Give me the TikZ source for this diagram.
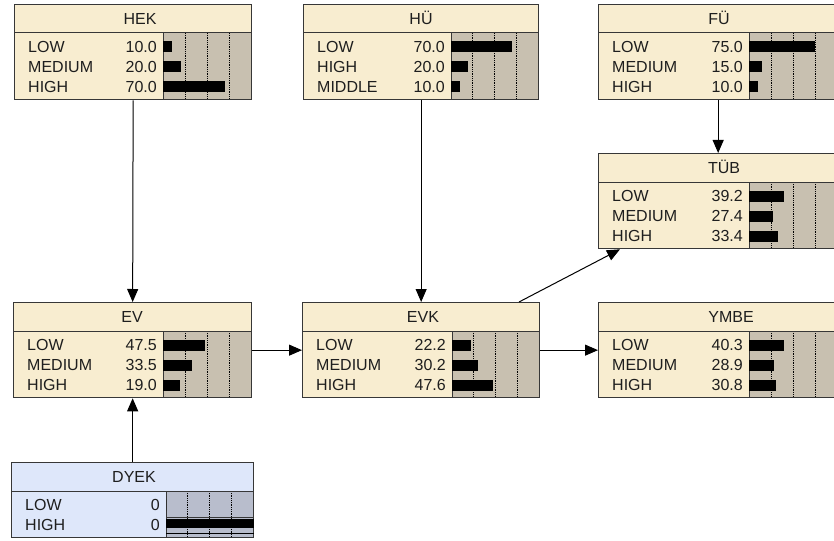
\documentclass[tikz,border=0pt]{standalone}
\usepackage{fontspec}
\setmainfont{Liberation Sans}
\usetikzlibrary{arrows.meta,calc}
\definecolor{creammain}{RGB}{248,237,208}
\definecolor{creambar}{RGB}{200,192,176}
\definecolor{bluemain}{RGB}{222,231,250}
\definecolor{bluebar}{RGB}{184,189,204}
\definecolor{edgegray}{RGB}{55,55,55}
\definecolor{ink}{RGB}{30,30,30}
\tikzset{
  boxframe/.style={draw=edgegray, line width=1.3pt, inner sep=0pt, fill=none},
  divline/.style={draw=edgegray, line width=1pt},
  gridline/.style={draw=black, line width=0.8pt, densely dotted},
  barfill/.style={fill=black},
  conn/.style={draw=black, line width=1pt, -{Triangle[length=13pt,width=11pt]}},
  rowtext/.style={inner sep=0pt, text=ink},
}
% #1 name, #2 x, #3 y, #4 width, #5 label width, #6 rows, #7 colour prefix, #8 title, #9 rows list
\newcommand{\bnnode}[9]{%
  \pgfmathsetmacro\bnH{29+20*#6+6}%
  \pgfmathsetmacro\bnR{#2+#4}%
  \pgfmathsetmacro\bnB{#3+\bnH}%
  \pgfmathsetmacro\bnT{#3+29}%
  \pgfmathsetmacro\bnS{#2+#5}%
  \pgfmathsetmacro\bnBW{#4-#5}%
  \fill[#7main] (#2,#3) rectangle (\bnR,\bnB);
  \fill[#7bar] (\bnS,\bnT) rectangle (\bnR,\bnB);
  \foreach \q in {0.25,0.5,0.75} \draw[gridline] (\bnS+\q*\bnBW,\bnT) -- (\bnS+\q*\bnBW,\bnB);
  \draw[divline] (\bnS,\bnT) -- (\bnS,\bnB);
  \draw[divline] (#2,\bnT) -- (\bnR,\bnT);
  \node[rowtext, anchor=base] at (\bntitlex,#3+14.5+5.7) {#8};
  \foreach \lab/\val/\pct [count=\i] in {#9} {%
    \pgfmathsetmacro\cy{\bnT+14+20*(\i-1)}%
    \node[rowtext, anchor=base west] at (#2+14,\cy+5.7) {\lab};
    \node[rowtext, anchor=base east] at (\bnS-6,\cy+5.7) {\val};
    \fill[barfill] (\bnS,\cy-5.5) rectangle (\bnS+\pct*\bnBW/100,\cy+5.5);
  }
  \node[boxframe, minimum width=#4pt, minimum height=\bnH pt, anchor=north west] (#1) at (#2,#3) {};
}
\begin{document}
\begin{tikzpicture}[x=1pt,y=-1pt, font=\fontsize{16}{20}\selectfont]
\useasboundingbox (0,0) rectangle (834,540);
\fill[white] (0,0) rectangle (834,540);
\clip (0,0) rectangle (834,540);

\def\bntitlex{140}
\bnnode{hek}{14}{4}{237}{149}{3}{cream}{HEK}{LOW/10.0/10, MEDIUM/20.0/20, HIGH/70.0/70}
\def\bntitlex{421}
\bnnode{hu}{303}{4}{235}{148}{3}{cream}{HÜ}{LOW/70.0/70, HIGH/20.0/20, MIDDLE/10.0/10}
\def\bntitlex{719}
\bnnode{fu}{598}{4}{239}{151}{3}{cream}{FÜ}{LOW/75.0/75, MEDIUM/15.0/15, HIGH/10.0/10}
\def\bntitlex{724}
\bnnode{tub}{598}{153}{239}{151}{3}{cream}{TÜB}{LOW/39.2/39.2, MEDIUM/27.4/27.4, HIGH/33.4/33.4}
\def\bntitlex{132}
\bnnode{ev}{13}{302}{238}{150}{3}{cream}{EV}{LOW/47.5/47.5, MEDIUM/33.5/33.5, HIGH/19.0/19.0}
\def\bntitlex{423}
\bnnode{evk}{302}{302}{237}{150}{3}{cream}{EVK}{LOW/22.2/22.2, MEDIUM/30.2/30.2, HIGH/47.6/47.6}
\def\bntitlex{731}
\bnnode{ymbe}{598}{302}{239}{151}{3}{cream}{YMBE}{LOW/40.3/40.3, MEDIUM/28.9/28.9, HIGH/30.8/30.8}
\def\bntitlex{134}
\bnnode{dyek}{11}{462}{242}{155}{2}{blue}{DYEK}{LOW/0/0, HIGH/0/0}
% finding bar of DYEK
\fill[black] ($(dyek.south west)+(155,-19)$) rectangle ($(dyek.south east)+(0,-10)$);
\draw[edgegray, line width=0.8pt] ($(dyek.south west)+(155,-21)$) -- ($(dyek.south east)+(0,-21)$);
\draw[black, line width=0.8pt] ($(dyek.south west)+(155,-5)$) -- ($(dyek.south east)+(0,-5)$);

\draw[conn] (hek.south) -- (ev.north);
\draw[conn] (hu.south) -- (evk.north);
\draw[conn] (fu.south) -- (tub.north);
\draw[conn] (ev.east) -- (evk.west);
\draw[conn] (evk.east) -- (ymbe.west);
\draw[conn] (dyek.north) -- (ev.south);
\coordinate (evkout) at ($(evk.north west)+(217,0)$);
\coordinate (tubin) at ($(tub.south west)+(22,0)$);
\draw[conn] (evkout) -- (tubin);
\end{tikzpicture}
\end{document}
